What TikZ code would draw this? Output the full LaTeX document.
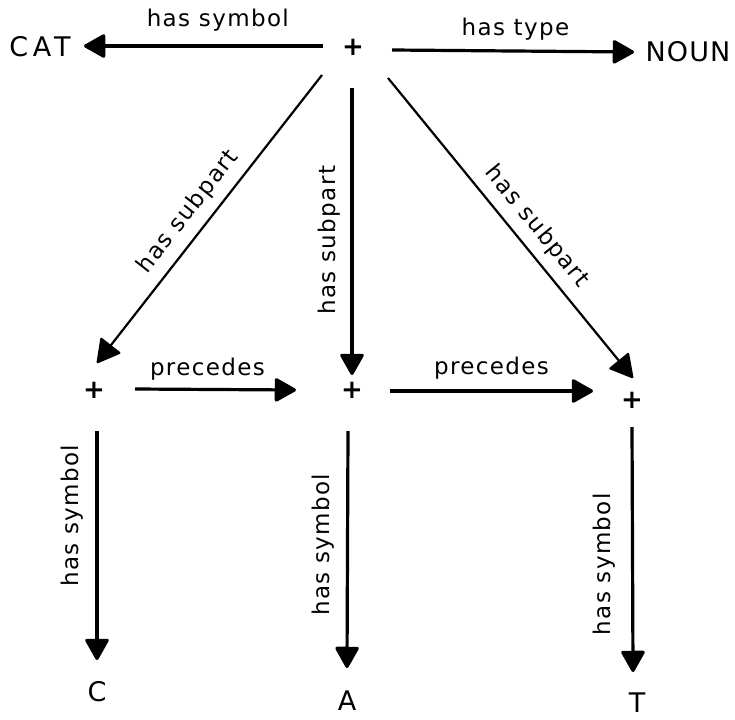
\documentclass[tikz,border=0pt]{standalone}
\usepackage{fontspec}
\setmainfont{DejaVu Sans}
\newfontfamily\lblfont[LetterSpace=6]{DejaVu Sans}
\newfontfamily\capfont[LetterSpace=4]{DejaVu Sans}
\newfontfamily\widecapfont[LetterSpace=18]{DejaVu Sans}
\usetikzlibrary{arrows.meta}
\begin{document}
\begin{tikzpicture}[x=1pt,y=-1pt,
  lbl/.style={font=\lblfont\fontsize{23}{26}\selectfont, inner sep=2pt},
  uplbl/.style={lbl, rotate=90, anchor=south},
  term/.style={font=\capfont\fontsize{27}{30}\selectfont, inner sep=0pt},
  plusnode/.style={font=\fontsize{26}{28}\selectfont\bfseries, inner sep=0pt},
  link/.style={line width=3.2pt, -{Triangle[length=23pt,width=25pt,round]}},
  thinlink/.style={line width=2.2pt, -{Triangle[length=24pt,width=26pt,round]}},
]
\useasboundingbox (0,0) rectangle (735,719);

% instance nodes
\node[plusnode] (p0) at (353,47) {+};
\node[plusnode] (p1) at (94,390) {+};
\node[plusnode] (p2) at (352,390) {+};
\node[plusnode] (p3) at (632,400) {+};

% value nodes
\node[term, font=\widecapfont\fontsize{27}{30}\selectfont] (cat) at (40,47) {CAT};
\node[term] (noun) at (688,52) {NOUN};
\node[term] (c) at (97,692) {C};
\node[term] (a) at (347,701) {A};
\node[term] (t) at (637,703) {T};

% word level
\draw[link] ([shift={(-30,-1)}]p0.center) -- ([shift={(44,-1)}]cat.center)
  node[lbl, pos=0.44, above=11pt] (l1) {has symbol};
\draw[link] ([shift={(39,3)}]p0.center) -- ([shift={(-54,0)}]noun.center)
  node[lbl, pos=0.51, above=7pt] (l2) {has type};

% subparts
\draw[thinlink] ([shift={(-31,28)}]p0.center) -- ([shift={(3,-27)}]p1.center)
  node[lbl, pos=0.52, above=7pt, sloped] (l3) {has subpart};
\draw[link] ([shift={(-1,41)}]p0.center) -- ([shift={(0,-15)}]p2.center)
  node[pos=0.53, xshift=-8pt, uplbl] (l4) {has subpart};
\draw[thinlink] ([shift={(35,31)}]p0.center) -- ([shift={(1,-22)}]p3.center)
  node[lbl, pos=0.54, above=7pt, sloped] (l5) {has subpart};

% ordering
\draw[link] ([shift={(41,-1)}]p1.center) -- ([shift={(-56,0)}]p2.center)
  node[lbl, pos=0.45, above=6pt] (l6) {precedes};
\draw[link] ([shift={(38,1)}]p2.center) -- ([shift={(-39,-9)}]p3.center)
  node[lbl, pos=0.5, above=8pt] (l7) {precedes};

% letter symbols
\draw[link] ([shift={(3,41)}]p1.center) -- ([shift={(0,-32)}]c.center)
  node[pos=0.37, xshift=-10pt, uplbl] (l8) {has symbol};
\draw[link] ([shift={(-4,41)}]p2.center) -- ([shift={(0,-33)}]a.center)
  node[pos=0.48, xshift=-10pt, uplbl] (l9) {has symbol};
\draw[link] ([shift={(0,27)}]p3.center) -- ([shift={(-4,-31)}]t.center)
  node[pos=0.56, xshift=-14pt, uplbl] (l10) {has symbol};
\end{tikzpicture}
\end{document}
